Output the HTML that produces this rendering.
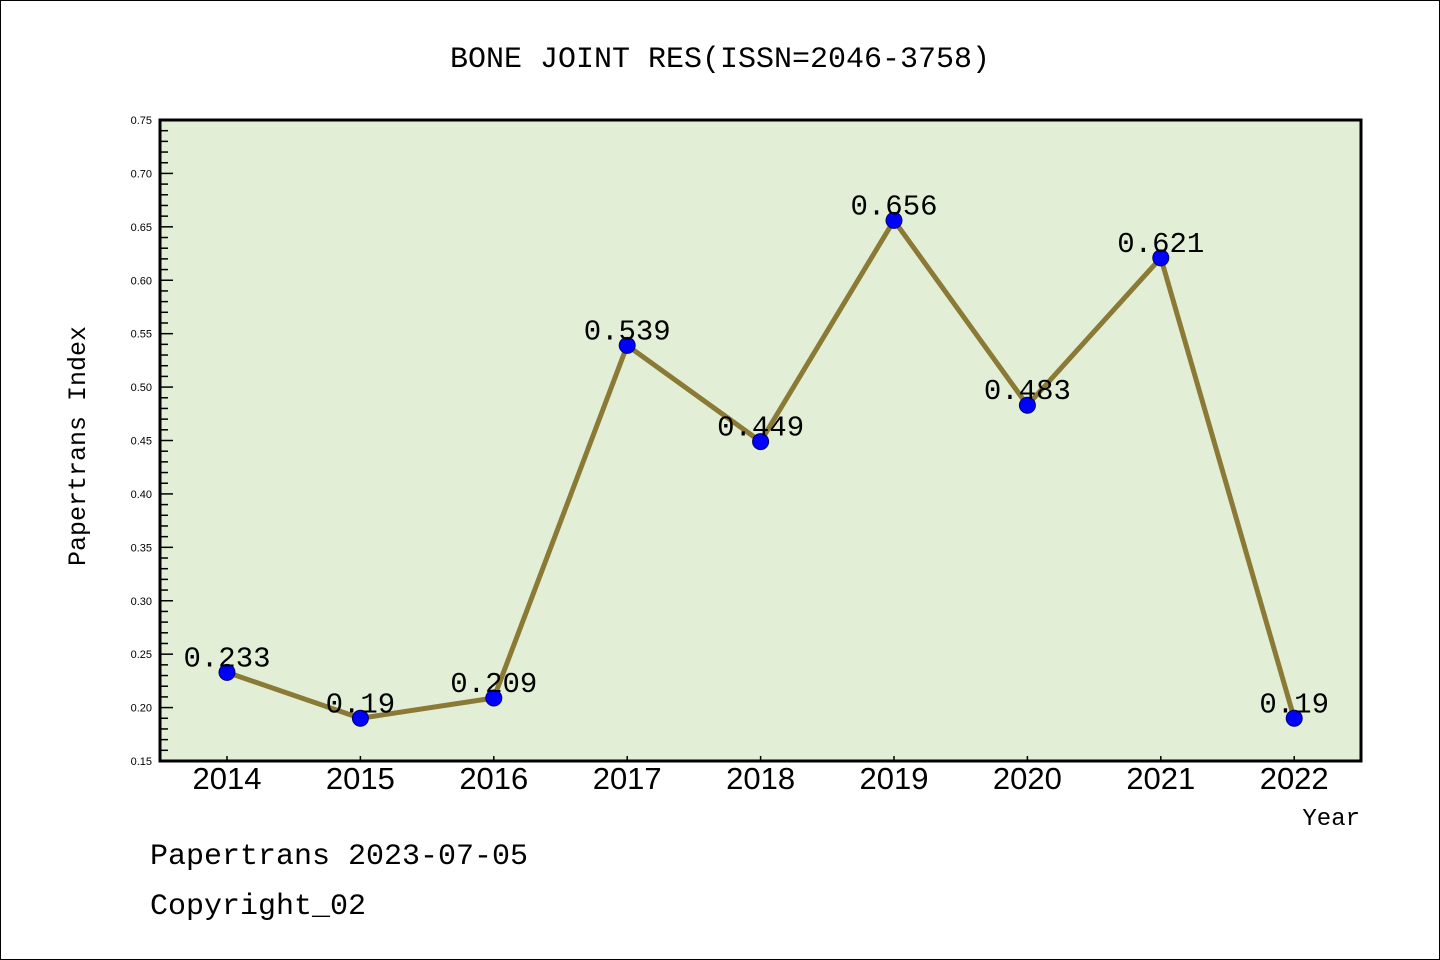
<!DOCTYPE html>
<html><head><meta charset="utf-8"><style>
html,body{margin:0;padding:0;background:#fff}
svg{display:block}
</style></head><body>
<svg width="1440" height="960" viewBox="0 0 1440 960" xmlns="http://www.w3.org/2000/svg">
<rect x="0.5" y="0.5" width="1439" height="959" fill="#fff" stroke="#000" stroke-width="1"/>
<text x="720" y="67" text-anchor="middle" font-family="Liberation Mono, monospace" font-size="30" fill="#000">BONE JOINT RES(ISSN=2046-3758)</text>
<rect x="160" y="120" width="1201" height="641" fill="#e2efd6"/>
<g id="yaxis"></g>
<g id="xaxis"></g>
<g id="series"></g>
<rect x="160" y="120" width="1201" height="641" fill="none" stroke="#000" stroke-width="3"/>
<text transform="translate(85,446) rotate(-90)" text-anchor="middle" font-family="Liberation Mono, monospace" font-size="25" fill="#000">Papertrans Index</text>
<text x="1360" y="825" text-anchor="end" font-family="Liberation Mono, monospace" font-size="24" fill="#000">Year</text>
<text x="150" y="864" font-family="Liberation Mono, monospace" font-size="30" fill="#000">Papertrans 2023-07-05</text>
<text x="150" y="914" font-family="Liberation Mono, monospace" font-size="30" fill="#000">Copyright_02</text>
</svg>
<script>
const years = ["2014","2015","2016","2017","2018","2019","2020","2021","2022"];
const values = [0.233,0.19,0.209,0.539,0.449,0.656,0.483,0.621,0.19];
const valueLabels = ["0.233","0.19","0.209","0.539","0.449","0.656","0.483","0.621","0.19"];
const yTicks = [0.15,0.20,0.25,0.30,0.35,0.40,0.45,0.50,0.55,0.60,0.65,0.70,0.75];

const NS="http://www.w3.org/2000/svg";
const yMin=0.15,yMax=0.75,plotTop=120,plotBottom=761,plotLeft=160;
function yScale(v){return plotBottom-(v-yMin)/(yMax-yMin)*(plotBottom-plotTop);}
function xScale(i){return 227+i*133.4;}
function mk(tag,attrs,parent){const e=document.createElementNS(NS,tag);for(const k in attrs)e.setAttribute(k,attrs[k]);parent.appendChild(e);return e;}

const ya=document.getElementById('yaxis');
for(let m=0;m<=60;m++){
  const v=yMin+m*0.01;const y=yScale(v);const major=m%5===0;
  const t=mk('line',{x1:plotLeft,x2:plotLeft+(major?13:8),y1:y,y2:y,stroke:'#000','stroke-width':1.5},ya);
  
  
}
yTicks.forEach(v=>{
  const t=mk('text',{x:152,y:yScale(v)+4,'text-anchor':'end','font-family':'Liberation Sans, sans-serif','font-size':11,fill:'#000'},ya);
  t.textContent=v.toFixed(2);
  
  
});
const xa=document.getElementById('xaxis');
years.forEach((yr,i)=>{
  const x=xScale(i);
  const tk=mk('line',{x1:x,x2:x,y1:plotBottom,y2:plotBottom-5,stroke:'#000','stroke-width':1.5},xa);
  
  
  const t=mk('text',{x:x,y:789,'text-anchor':'middle','font-family':'Liberation Sans, sans-serif','font-size':31,fill:'#000'},xa);
  t.textContent=yr;
  
  
});
const s=document.getElementById('series');
const pts=values.map((v,i)=>xScale(i)+','+yScale(v)).join(' ');
const pl=mk('polyline',{points:pts,fill:'none',stroke:'#8b7a35','stroke-width':5,'stroke-linejoin':'round'},s);


values.forEach((v,i)=>{
  const c=mk('circle',{cx:xScale(i),cy:yScale(v),r:8,fill:'#0000ff',stroke:'#00006a','stroke-width':1},s);
  
  
});
values.forEach((v,i)=>{
  const t=mk('text',{x:xScale(i),y:yScale(v)-6,'text-anchor':'middle','font-family':'Liberation Mono, monospace','font-size':29,fill:'#000'},s);
  t.textContent=valueLabels[i];
  
  
});
</script>
</body></html>
